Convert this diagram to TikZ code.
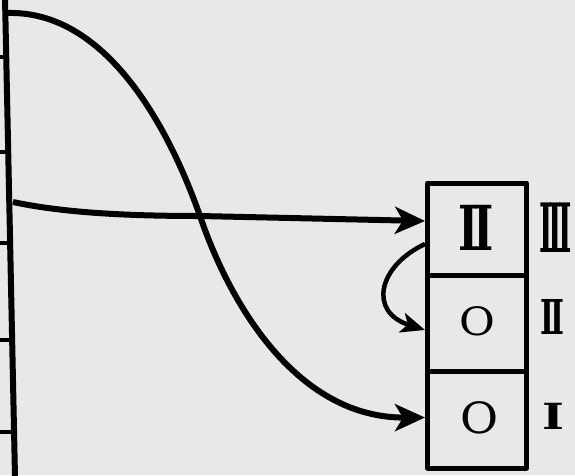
\documentclass[tikz,border=0pt]{standalone}
\usepackage{graphicx}
\usepackage{fontspec}
\newfontfamily\heavy{DejaVu Serif}
\usetikzlibrary{arrows.meta}
\definecolor{bg}{HTML}{E8E8E8}
\begin{document}
\begin{tikzpicture}[x=1pt,y=-1pt,line width=6pt,line join=round,
  cell/.style={draw,line width=5pt,minimum width=99pt,inner sep=0pt},
  bigarr/.style={-{Stealth[length=30pt,width=27pt,inset=8pt]}},
  smallarr/.style={-{Stealth[length=24pt,width=20pt,inset=6pt]}},
  lab/.style={anchor=west,inner sep=0pt},
  tick/.style={line width=4pt}]
\fill[bg] (0,0) rectangle (575,475);
\useasboundingbox (0,0) rectangle (575,475);
% left vertical bar with ticks
\coordinate (top) at (5,-2);
\coordinate (bot) at (15,477);
\draw (top) -- (bot);
\foreach \y/\n in {57/a,152/b,243/c,340/d,432/e}{
  \coordinate (L\n) at (0,\y);
  \coordinate (R\n) at ({5+10*(\y+2)/479},\y);
  \draw[tick] (L\n) -- (R\n);
}
% register cells
\node[cell,minimum height=92pt] (c1) at (477,229) {};
\node[cell,minimum height=96pt] (c2) at (477,323) {};
\node[cell,minimum height=97pt] (c3) at (477,419.5) {};
\node[inner sep=0pt,font=\heavy\bfseries\fontsize{62}{62}\selectfont] (t1) at (476,228) {\scalebox{0.7}[1]{I\kern-0.12em I}};
\node[inner sep=0pt,font=\heavy\fontsize{39}{39}\selectfont] (t2) at (477,321) {\scalebox{1.12}[1]{O}};
\node[inner sep=0pt,font=\heavy\fontsize{43}{43}\selectfont] (t3) at (480,418) {\scalebox{1.08}[1]{O}};
% right labels
\node[lab,font=\heavy\bfseries\fontsize{68}{68}\selectfont] (r1) at (536,228) {\scalebox{0.42}[1]{I\kern-0.12em I\kern-0.12em I}};
\node[lab,font=\heavy\bfseries\fontsize{48}{48}\selectfont] (r2) at (537,317) {\scalebox{0.62}[1]{I\kern-0.12em I}};
\node[lab,font=\heavy\bfseries\fontsize{36}{36}\selectfont] (r3) at (539,416) {\scalebox{1.3}[1]{I}};
% connectors
\coordinate (s1) at (7,13);
\coordinate (s2) at (13,202);
\coordinate (x) at (200,216);
\draw[bigarr] (s1) .. controls (105,10) and (168,125) .. (x)
  .. controls (232,310) and (300,418) .. ([yshift=2pt]c3.west);
\draw[bigarr] (s2) .. controls (60,212) and (120,216) .. (x)
  -- ([yshift=8pt]c1.west);
\draw[smallarr,line width=4.5pt] ([yshift=-15pt]c1.west) .. controls (378,266) and (368,312) .. ([yshift=-7pt]c2.west);
\end{tikzpicture}
\end{document}
